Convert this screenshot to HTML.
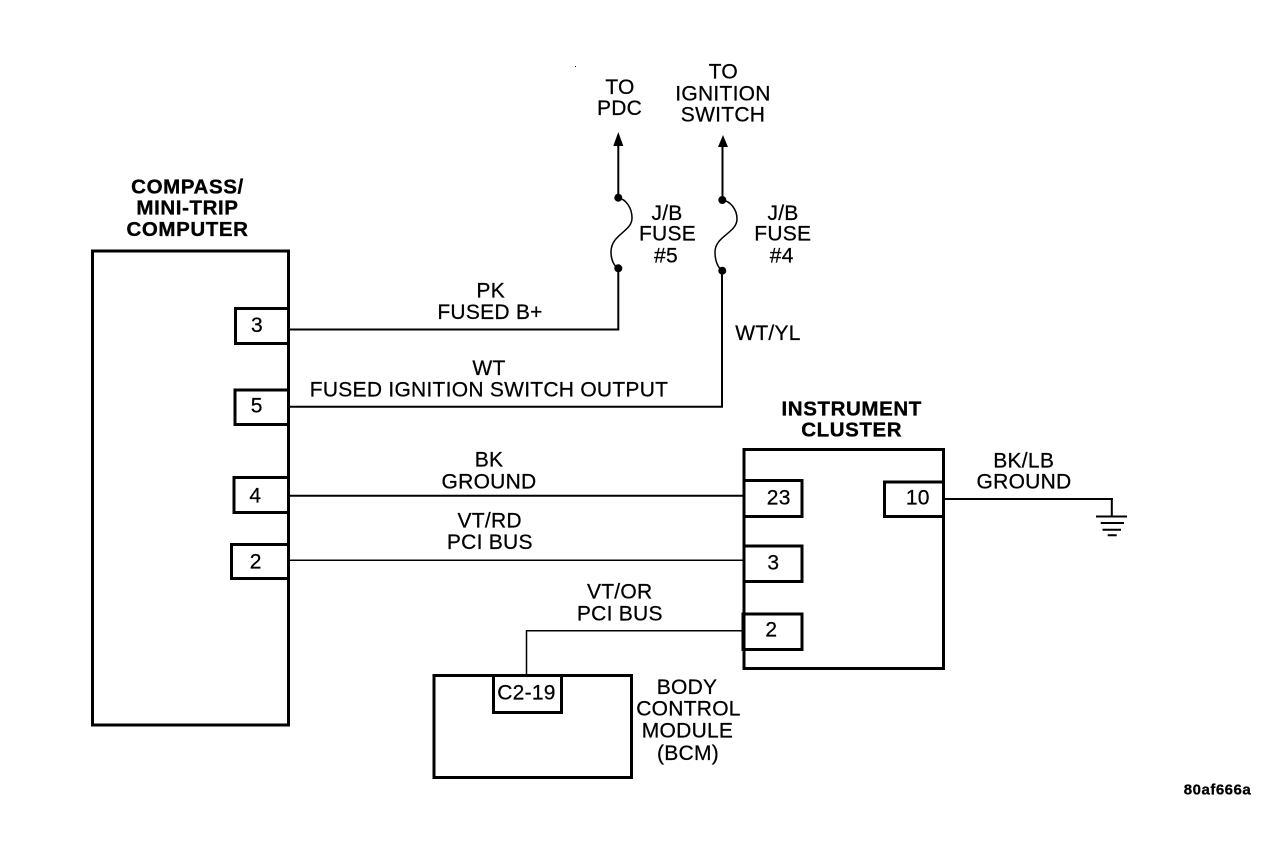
<!DOCTYPE html>
<html><head><meta charset="utf-8"><style>
html,body{margin:0;padding:0;background:#fff}
svg{display:block}
text{font-family:"Liberation Sans",sans-serif;font-size:21px;letter-spacing:.26px;fill:#000;text-anchor:middle;stroke:#000;stroke-width:.25px}
.b{font-weight:bold;font-size:20.5px;letter-spacing:.6px;stroke-width:.35px}
</style></head><body>
<svg width="1280" height="854" viewBox="0 0 1280 854" xmlns="http://www.w3.org/2000/svg">
<g fill="none" stroke="#000" stroke-width="3">
<rect x="92.5" y="251" width="196" height="474"/>
<rect x="235.5" y="308.5" width="53" height="35"/>
<rect x="235" y="390" width="53.5" height="34.5"/>
<rect x="234" y="477.5" width="54.5" height="35"/>
<rect x="231.5" y="544.5" width="57" height="34"/>
<rect x="744" y="449.5" width="199.5" height="219"/>
<rect x="744" y="480.5" width="58" height="36"/>
<rect x="744" y="546" width="58" height="35.5"/>
<rect x="743" y="614" width="59" height="35.5"/>
<rect x="884.5" y="482" width="59" height="34.5"/>
<rect x="434" y="675.5" width="197.5" height="102"/>
<rect x="493.5" y="675.5" width="68" height="37"/>
</g>
<g fill="none" stroke="#000" stroke-width="2">
<path d="M290 329.5H618.3V268"/>
<path d="M290 406.7H722V270"/>
<path d="M290 495.7H743"/>
<path d="M1111.8 499V516"/>
<path d="M945 499H1113"/>
<path d="M1096 516.5H1127M1100.7 523H1124M1102.5 529.7H1121M1107.7 535.3H1116.7"/>
<path d="M618.3 198V142"/>
<path d="M722.5 200V144"/>
</g>
<g fill="none" stroke="#000" stroke-width="1.5">
<path d="M290 560.3H743"/>
<path d="M526.5 675V630.8H743"/>
<path d="M618.3 198C626 199 632 208 632 218C632 232 611 234 611 252C611 260 614 266 618.3 268.3"/>
<path d="M722.3 200C730 201 737 209 737 219C737 233 715 236 715 252C715 261 718 268 722.3 270.7"/>
</g>
<g fill="#000">
<circle cx="618.3" cy="197.7" r="4"/><circle cx="618.3" cy="268.3" r="4"/>
<circle cx="722.3" cy="200" r="4"/><circle cx="722.3" cy="270.7" r="4"/>
<path d="M618.3 132L613.3 146H623.3Z"/><path d="M723 135L718 147H728Z"/>
<rect x="575" y="66" width="1" height="1"/>
</g>
<text class="b" x="187.5" y="193.3">COMPASS/</text>
<text class="b" x="187.5" y="214.3">MINI-TRIP</text>
<text class="b" x="187.5" y="236">COMPUTER</text>
<text class="b" x="851.7" y="415.7">INSTRUMENT</text>
<text class="b" x="851.7" y="436.7">CLUSTER</text>
<text x="620" y="94">TO</text><text x="619.5" y="115">PDC</text>
<text x="723.3" y="78.3">TO</text><text x="723" y="100.7">IGNITION</text><text x="723" y="121.7">SWITCH</text>
<text x="667" y="220">J/B</text><text x="667.5" y="240.7">FUSE</text><text x="666" y="262.3">#5</text>
<text x="783" y="220">J/B</text><text x="782.8" y="240.7">FUSE</text><text x="781.7" y="262.3">#4</text>
<text x="490.7" y="297.3">PK</text><text x="490" y="319">FUSED B+</text>
<text x="768" y="340">WT/YL</text>
<text x="489" y="375">WT</text><text x="489" y="396.7">FUSED IGNITION SWITCH OUTPUT</text>
<text x="489" y="466.7">BK</text><text x="489" y="488.3">GROUND</text>
<text x="489.7" y="527.7">VT/RD</text><text x="489.8" y="549">PCI BUS</text>
<text x="619.7" y="598.3">VT/OR</text><text x="619.8" y="620.7">PCI BUS</text>
<text x="1023.7" y="467.3">BK/LB</text><text x="1024" y="488.7">GROUND</text>
<text x="257" y="332">3</text><text x="256.7" y="412.7">5</text><text x="255.3" y="502.7">4</text><text x="255.7" y="568.7">2</text>
<text x="778.7" y="504.3">23</text><text x="773.3" y="569.3">3</text><text x="771.3" y="636.7">2</text><text x="917.8" y="504.3">10</text>
<text x="526.5" y="699.3">C2-19</text>
<text x="687" y="694">BODY</text><text x="688.5" y="715.7">CONTROL</text><text x="687.5" y="737.7">MODULE</text><text x="688" y="760">(BCM)</text>
<text x="1217.5" y="794.5" style="font-size:15px;font-weight:bold;letter-spacing:.5px;stroke-width:.3px">80af666a</text>
</svg>
</body></html>
